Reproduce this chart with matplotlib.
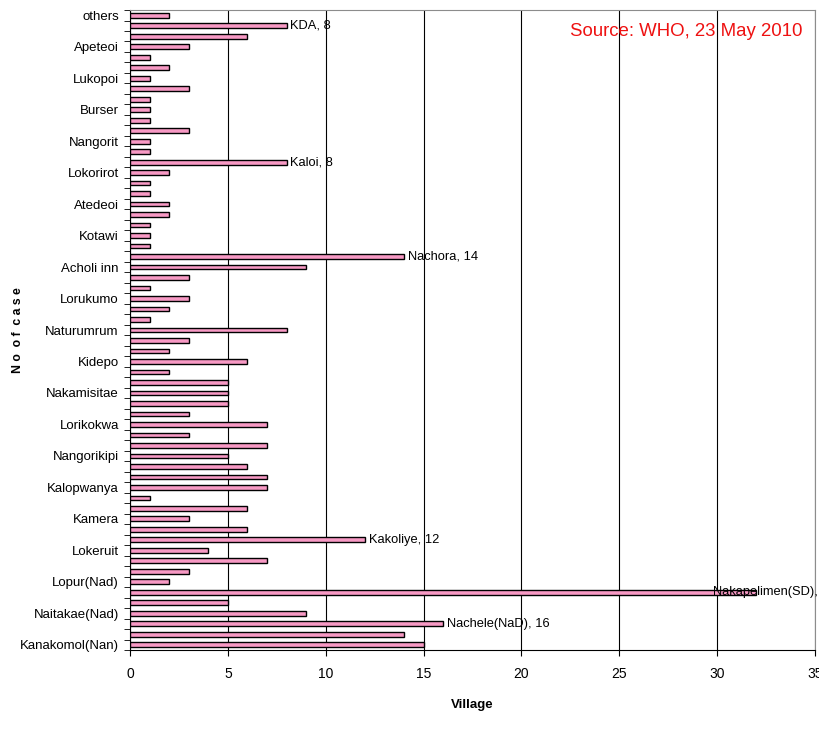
import matplotlib.pyplot as plt
import numpy as np

plt.rcParams['font.family'] = ['Liberation Sans', 'DejaVu Sans']

# bar values, bottom to top
cases = [15, 14, 16, 9, 5, 32, 2, 3, 7, 4, 12, 6, 3, 6, 1, 7, 7, 6, 5, 7, 3,
         7, 3, 5, 5, 5, 2, 6, 2, 3, 8, 1, 2, 3, 1, 3, 9, 14, 1, 1, 1, 2, 2, 1,
         1, 2, 8, 1, 1, 3, 1, 1, 1, 3, 1, 2, 1, 3, 6, 8, 2]

# every third category carries a tick label (bottom to top)
tick_names = ['Kanakomol(Nan)', 'Naitakae(Nad)', 'Lopur(Nad)', 'Lokeruit', 'Kamera',
              'Kalopwanya', 'Nangorikipi', 'Lorikokwa', 'Nakamisitae', 'Kidepo',
              'Naturumrum', 'Lorukumo', 'Acholi inn', 'Kotawi', 'Atedeoi',
              'Lokorirot', 'Nangorit', 'Burser', 'Lukopoi', 'Apeteoi', 'others']

# bars with a data label
label_idx = [2, 5, 10, 37, 46, 59]
label_names = ['Nachele(NaD)', 'Nakapelimen(SD)', 'Kakoliye', 'Nachora', 'Kaloi', 'KDA']

fig = plt.figure(figsize=(8.2, 7.31), dpi=100)
ax = fig.add_axes([0.1585, 0.1108, 0.8354, 0.8755])

y = np.arange(len(cases))
ax.barh(y, cases, height=0.45, color='#f799c4', edgecolor='black', linewidth=1.0, zorder=3)

ax.set_xlim(0, 35)
ax.set_ylim(-0.5, len(cases) - 0.5)
ax.set_xticks(np.arange(0, 36, 5))
ax.xaxis.grid(True, color='black', linewidth=0.8, zorder=0)

ax.set_yticks(y[::3])
ax.set_yticklabels(tick_names, fontsize=9.5)
ax.set_yticks(np.arange(-0.5, len(cases), 1), minor=True)
ax.tick_params(axis='y', which='major', length=0, pad=8)
ax.tick_params(axis='y', which='minor', length=4, color='black')
ax.tick_params(axis='x', length=4, labelsize=10, pad=8)

for side in ['top', 'right']:
    ax.spines[side].set_color('#8c8c8c')
for side in ['left', 'bottom']:
    ax.spines[side].set_color('black')

for i, name in zip(label_idx, label_names):
    v = cases[i]
    xpos = v + 0.2
    if v > 30:
        xpos = 29.8
    ax.text(xpos, i, f'{name}, {v}', fontsize=9.3, va='center', ha='left',
            zorder=4, clip_on=False)

ax.text(0.982, 0.966, 'Source: WHO, 23 May 2010', transform=ax.transAxes,
        color='#ee1111', fontsize=13.4, ha='right', va='center')

ax.set_xlabel('Village', fontsize=9.5, fontweight='bold', labelpad=13)
fig.text(0.022, 0.548, 'N o  o f  c a s e', rotation=90, fontsize=8.8,
         fontweight='bold', ha='center', va='center')

plt.savefig('out.png', dpi=100)
